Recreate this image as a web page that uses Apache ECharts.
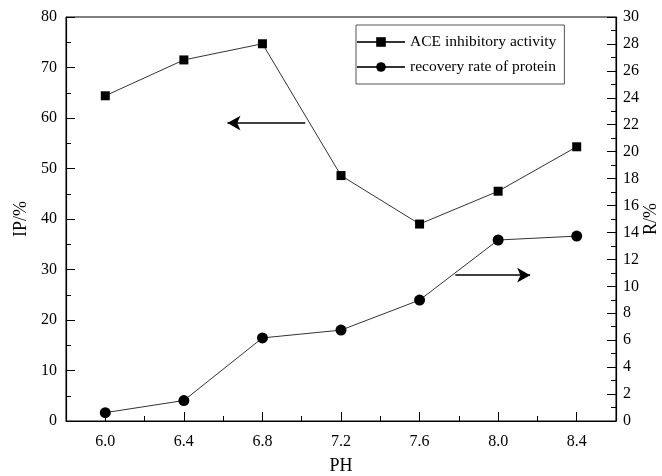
<!DOCTYPE html>
<html>
<head>
<meta charset="utf-8">
<script src="https://cdn.jsdelivr.net/npm/echarts@6/dist/echarts.min.js"></script>
<style>html,body{margin:0;padding:0;background:#fff}#c{width:662px;height:476px}</style>
</head>
<body>
<div id="c"></div>
<script>
const pH = [6.0, 6.4, 6.8, 7.2, 7.6, 8.0, 8.4];
const aceActivity = [64.4, 71.5, 74.7, 48.6, 39.0, 45.5, 54.3];
const recoveryRate = [0.62, 1.52, 6.17, 6.75, 8.98, 13.44, 13.73];
const xMajorLabels = [6.0, 6.4, 6.8, 7.2, 7.6, 8.0, 8.4];
const xMinorTicks = [6.2, 6.6, 7.0, 7.4, 7.8, 8.2];
const seriesNames = ['ACE inhibitory activity', 'recovery rate of protein'];
// annotation arrows: [xStart, xEnd, y] in data units
const leftArrow = [7.018, 6.622, 59.0];
const rightArrow = [7.782, 8.163, 10.83];

const FONT = 'Liberation Serif';
const chart = echarts.init(document.getElementById('c'));
const tickStyle = {color: '#000', width: 1};
chart.setOption({
  animation: false,
  textStyle: {fontFamily: FONT},
  grid: {left: 66, right: 46, top: 17, bottom: 55, outerBoundsMode: 'none', containLabel: false, show: true, borderColor: '#000', borderWidth: 1, backgroundColor: 'transparent'},
  legend: {
    orient: 'vertical', left: 356, top: 25,
    padding: [9, 8, 9, 0], itemGap: 9, itemWidth: 48, itemHeight: 12,
    borderColor: '#555', borderWidth: 1,
    textStyle: {fontFamily: FONT, fontSize: 15.5, color: '#000'},
    data: seriesNames
  },
  xAxis: [{
    type: 'value', min: 5.8, max: 8.6,
    name: 'PH', nameLocation: 'middle', nameGap: 36,
    nameTextStyle: {fontFamily: FONT, fontSize: 18, color: '#000'},
    axisLine: {lineStyle: {color: '#000', width: 1.2}},
    axisTick: {inside: true, length: 9, lineStyle: tickStyle, customValues: xMajorLabels},
    axisLabel: {customValues: xMajorLabels, formatter: v => v.toFixed(1), fontFamily: FONT, fontSize: 16, color: '#000', margin: 13},
    splitLine: {show: false}
  }, {
    type: 'value', min: 5.8, max: 8.6, position: 'bottom',
    axisLine: {show: false},
    axisTick: {inside: true, length: 5, lineStyle: tickStyle, customValues: xMinorTicks},
    axisLabel: {show: false},
    splitLine: {show: false}
  }],
  yAxis: [{
    type: 'value', min: 0, max: 80, interval: 10, position: 'left',
    name: 'IP/%', nameLocation: 'middle', nameGap: 35,
    nameTextStyle: {fontFamily: FONT, fontSize: 18, color: '#000'},
    axisLine: {show: true, lineStyle: {color: '#000', width: 1.2}},
    axisTick: {inside: true, length: 9, lineStyle: tickStyle},
    minorTick: {show: true, splitNumber: 2, length: 5, lineStyle: tickStyle},
    axisLabel: {fontFamily: FONT, fontSize: 16, color: '#000', margin: 9},
    splitLine: {show: false}
  }, {
    type: 'value', min: 0, max: 30, interval: 2, position: 'right',
    name: 'R/%', nameLocation: 'middle', nameGap: 26, nameRotate: 90, nameMoveOverlap: false,
    nameTextStyle: {fontFamily: FONT, fontSize: 18, color: '#000'},
    axisLine: {show: true, lineStyle: {color: '#000', width: 1.2}},
    axisTick: {inside: true, length: 9, lineStyle: tickStyle},
    minorTick: {show: true, splitNumber: 2, length: 5, lineStyle: tickStyle},
    axisLabel: {fontFamily: FONT, fontSize: 16, color: '#000', margin: 7},
    splitLine: {show: false}
  }],
  series: [{
    name: seriesNames[0], type: 'line', xAxisIndex: 0, yAxisIndex: 0,
    data: pH.map((x, i) => [x, aceActivity[i]]),
    symbol: 'rect', symbolSize: 9,
    itemStyle: {color: '#000'},
    lineStyle: {color: '#333', width: 1},
    markLine: {
      silent: true, animation: false,
      symbol: ['none', 'arrow'], symbolSize: [11, 13],
      label: {show: false},
      lineStyle: {color: '#000', width: 1.5, type: 'solid'},
      data: [[{coord: [leftArrow[0], leftArrow[2]]}, {coord: [leftArrow[1], leftArrow[2]]}]]
    }
  }, {
    name: seriesNames[1], type: 'line', xAxisIndex: 0, yAxisIndex: 1,
    data: pH.map((x, i) => [x, recoveryRate[i]]),
    symbol: 'circle', symbolSize: 11,
    itemStyle: {color: '#000'},
    lineStyle: {color: '#333', width: 1},
    markLine: {
      silent: true, animation: false,
      symbol: ['none', 'arrow'], symbolSize: [11, 13],
      label: {show: false},
      lineStyle: {color: '#000', width: 1.5, type: 'solid'},
      data: [[{coord: [rightArrow[0], rightArrow[2]]}, {coord: [rightArrow[1], rightArrow[2]]}]]
    }
  }]
});
</script>
</body>
</html>
